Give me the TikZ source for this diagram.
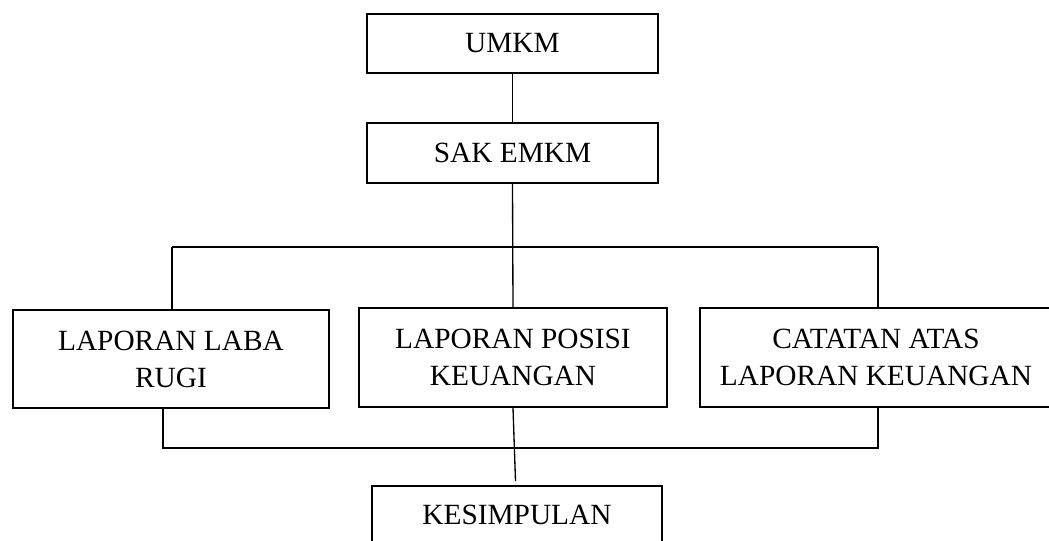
\documentclass[tikz,border=0pt]{standalone}
\usepackage{fontspec}
\setmainfont{Liberation Serif}
\begin{document}
\begin{tikzpicture}[x=0.75pt,y=-0.75pt,
  box/.style={draw=black,line width=1.5pt,rectangle,inner sep=0pt,align=center,
    font=\fontsize{22}{27.75}\selectfont},
  conn/.style={draw=black,line width=1pt}]
\useasboundingbox (0,0) rectangle (1049,540);
\begin{scope}
\clip (0,0) rectangle (1049,540);
\node[box,minimum width=218.25pt,minimum height=44.25pt] (umkm) at (512.5,43.5) {UMKM};
\node[box,minimum width=218.25pt,minimum height=45pt] (sak) at (512.5,153) {SAK EMKM};
\node[box,minimum width=237pt,minimum height=73.5pt] (laba) at (171,359) {LAPORAN LABA\\RUGI};
\node[box,minimum width=231pt,minimum height=73.9pt] (posisi) at (513,357.75) {LAPORAN POSISI\\KEUANGAN};
\node[box,minimum width=264pt,minimum height=74.6pt] (catatan) at (876,357.25) {CATATAN ATAS\\LAPORAN KEUANGAN};
\node[box,minimum width=217.5pt,minimum height=43.5pt] (kes) at (517,515) {KESIMPULAN};

\coordinate (tl) at (172,247);
\coordinate (tr) at (878,247);
\coordinate (bl) at (163,448);
\coordinate (br) at (878,448);
\coordinate (mb) at (515.5,481);

\draw[conn] (umkm.south) -- (sak.north);
\draw[conn] (sak.south) -- (posisi.north);
\draw[conn] (tl) -- (tr);
\draw[conn] (tl) -- (tl |- laba.north);
\draw[conn] (tr) -- (tr |- catatan.north);
\draw[conn] (bl |- laba.south) -- (bl) -- (br) -- (br |- catatan.south);
\draw[conn] (posisi.south) -- (mb);
\end{scope}
\end{tikzpicture}
\end{document}
